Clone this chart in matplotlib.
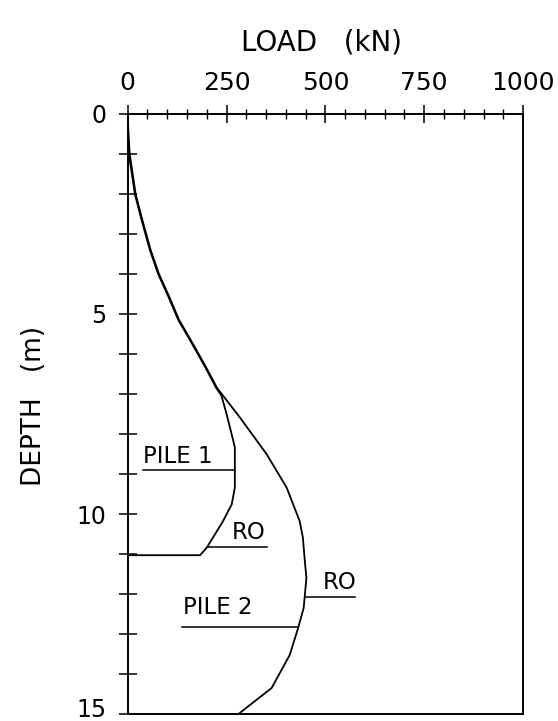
import numpy as np
import matplotlib
matplotlib.use("Agg")
import matplotlib.pyplot as plt
from matplotlib.ticker import MultipleLocator
from matplotlib.transforms import ScaledTranslation

# Axial load distribution along two piles (load in kN, depth in m)
pile1_depth = [0.0, 0.5, 1.0, 2.0, 2.65, 3.4, 4.0, 4.57, 5.15, 5.73, 6.31, 6.85,
               7.04, 7.5, 8.17, 8.34, 9.34, 9.76, 10.18, 10.84, 11.03, 11.03]
pile1_load = [0, 1, 3, 18, 35, 56, 77, 103, 128, 162, 195, 224,
              237, 250, 267, 271, 271, 263, 241, 200, 183, 0]

pile2_depth = [0.0, 0.5, 1.0, 2.0, 2.65, 3.4, 4.0, 4.57, 5.15, 5.73, 6.31, 6.85,
               7.59, 8.5, 9.34, 10.18, 10.59, 11.18, 11.6, 12.35, 12.85, 13.52,
               14.35, 14.52, 15.0]
pile2_load = [0, 2, 5, 20, 37, 58, 79, 105, 130, 164, 197, 226,
              284, 351, 402, 435, 443, 448, 452, 445, 431, 410,
              364, 342, 280]

x_ticks = [0, 250, 500, 750, 1000]
y_ticks = [0, 5, 10, 15]

# Annotation depths / label anchors
pile1_label_depth = 8.9
pile1_r0_depth = 10.83
pile2_r0_depth = 12.08
pile2_label_depth = 12.83

plt.rcParams['font.family'] = ['DejaVu Sans']

fig = plt.figure(figsize=(5.58, 7.21), dpi=100)
ax = fig.add_axes([0.2289, 0.0097, 0.7085, 0.8322])

lw = 1.3
ax.plot(pile1_load, pile1_depth, color='black', lw=lw, solid_joinstyle='miter')
ax.plot(pile2_load, pile2_depth, color='black', lw=lw, solid_joinstyle='miter')

ax.set_xlim(0, 1000)
ax.set_ylim(15, 0)

ax.xaxis.tick_top()
ax.xaxis.set_label_position('top')
ax.set_xticks(x_ticks)
ax.set_xticklabels([str(v) for v in x_ticks])
ax.xaxis.set_minor_locator(MultipleLocator(50))
ax.set_yticks(y_ticks)
ax.set_yticklabels([str(v) for v in y_ticks])
ax.yaxis.set_minor_locator(MultipleLocator(1))

ax.tick_params(axis='x', which='major', direction='inout', length=13, width=1.1,
               labelsize=18, pad=7, top=True, bottom=False)
ax.tick_params(axis='x', which='minor', direction='inout', length=7, width=1.0,
               top=True, bottom=False)
ax.tick_params(axis='y', which='both', direction='inout', length=13, width=1.1,
               left=True, right=False)
ax.tick_params(axis='y', which='major', labelsize=17, pad=9)

# nudge the bottom depth label up so it stays inside the figure
last = ax.yaxis.get_major_ticks()[-1].label1
last.set_transform(last.get_transform() + ScaledTranslation(0, 5 / 72, fig.dpi_scale_trans))

for s in ax.spines.values():
    s.set_linewidth(1.4)

ax.set_xlabel('LOAD   (kN)', fontsize=20)
ax.xaxis.set_label_coords(0.49, 1.105)
ax.set_ylabel('DEPTH   (m)', fontsize=19)
ax.yaxis.set_label_coords(-0.204, 0.513)

# Leader lines and labels
p1d = np.array(pile1_depth[:-1])
p1l = np.array(pile1_load[:-1])
p2d = np.array(pile2_depth)
p2l = np.array(pile2_load)

lab_fs = 16.5
x_end = np.interp(pile1_label_depth, p1d, p1l)
ax.plot([39, x_end], [pile1_label_depth] * 2, color='black', lw=1.1)
ax.text(39, pile1_label_depth - 0.06, 'PILE 1', fontsize=lab_fs, ha='left', va='bottom')

x_start = np.interp(pile1_r0_depth, p1d, p1l)
ax.plot([x_start, 352], [pile1_r0_depth] * 2, color='black', lw=1.1)
ax.text(348, pile1_r0_depth - 0.08, 'RO', fontsize=lab_fs, ha='right', va='bottom')

x_start = np.interp(pile2_r0_depth, p2d, p2l)
ax.plot([x_start, 574], [pile2_r0_depth] * 2, color='black', lw=1.1)
ax.text(578, pile2_r0_depth - 0.08, 'RO', fontsize=lab_fs, ha='right', va='bottom')

x_end = np.interp(pile2_label_depth, p2d, p2l)
ax.plot([137, x_end], [pile2_label_depth] * 2, color='black', lw=1.1)
ax.text(140, pile2_label_depth - 0.2, 'PILE 2', fontsize=lab_fs, ha='left', va='bottom')

fig.savefig('out.png', dpi=100)
